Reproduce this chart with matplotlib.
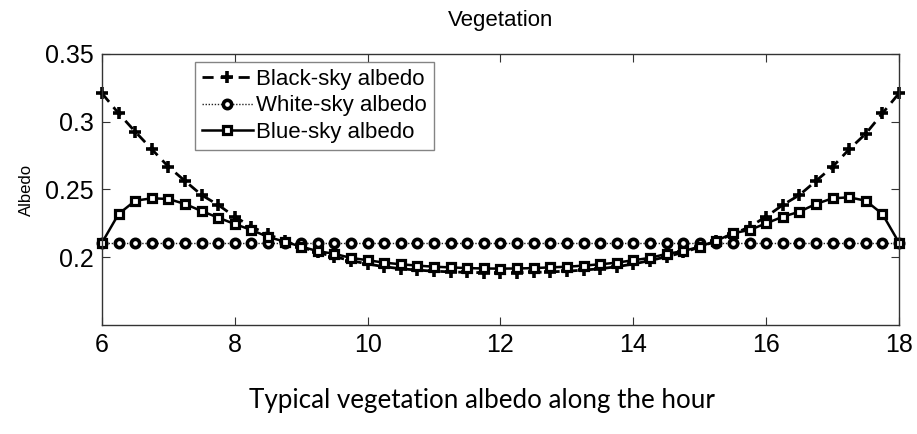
import numpy as np
import matplotlib
matplotlib.use("Agg")
import matplotlib.pyplot as plt

hours = [6.0, 6.25, 6.5, 6.75, 7.0, 7.25, 7.5, 7.75, 8.0, 8.25, 8.5, 8.75,
         9.0, 9.25, 9.5, 9.75, 10.0, 10.25, 10.5, 10.75, 11.0, 11.25, 11.5, 11.75,
         12.0, 12.25, 12.5, 12.75, 13.0, 13.25, 13.5, 13.75, 14.0, 14.25, 14.5, 14.75,
         15.0, 15.25, 15.5, 15.75, 16.0, 16.25, 16.5, 16.75, 17.0, 17.25, 17.5, 17.75, 18.0]

black_sky = [0.3210, 0.3062, 0.2927, 0.2797, 0.2668, 0.2563, 0.2459, 0.2386, 0.2299, 0.2225,
             0.2170, 0.2120, 0.2075, 0.2035, 0.2004, 0.1975, 0.1950, 0.1930, 0.1915, 0.1905,
             0.1897, 0.1892, 0.1888, 0.1886, 0.1885, 0.1886, 0.1888, 0.1892, 0.1897, 0.1905,
             0.1915, 0.1930, 0.1950, 0.1975, 0.2004, 0.2035, 0.2075, 0.2120, 0.2170, 0.2225,
             0.2299, 0.2386, 0.2459, 0.2563, 0.2668, 0.2797, 0.2912, 0.3062, 0.3210]

white_sky = [0.2107] * 49

blue_sky = [0.2107, 0.2319, 0.2417, 0.2435, 0.2430, 0.2393, 0.2341, 0.2292, 0.2245, 0.2201,
            0.2150, 0.2115, 0.2078, 0.2045, 0.2025, 0.1995, 0.1978, 0.1960, 0.1948, 0.1938,
            0.1930, 0.1925, 0.1920, 0.1917, 0.1916, 0.1917, 0.1920, 0.1925, 0.1930, 0.1938,
            0.1948, 0.1960, 0.1978, 0.1995, 0.2025, 0.2045, 0.2078, 0.2122, 0.2177, 0.2201,
            0.2250, 0.2299, 0.2336, 0.2393, 0.2435, 0.2442, 0.2417, 0.2319, 0.2107]

x_ticks = [6, 8, 10, 12, 14, 16, 18]
y_ticks = [0.2, 0.25, 0.3, 0.35]
y_tick_labels = ["0.2", "0.25", "0.3", "0.35"]

plt.rcParams["font.family"] = ["Liberation Sans", "DejaVu Sans"]

fig = plt.figure(figsize=(9.17, 4.34), dpi=100)
ax = fig.add_axes([0.1112, 0.2512, 0.8692, 0.6244])

ax.plot(hours, black_sky, color="black", lw=2.0, ls=(0, (4, 2.5)),
        marker="+", ms=8, mew=2.6, label="Black-sky albedo", clip_on=False)
ax.plot(hours, white_sky, color="#222222", lw=1.0, ls=(0, (1, 1.2)),
        marker="o", ms=6, mew=2.6, mfc="white", mec="black",
        label="White-sky albedo", clip_on=False)
ax.plot(hours, blue_sky, color="black", lw=1.8, ls="-",
        marker="s", ms=5.8, mew=2.3, mfc="white", label="Blue-sky albedo",
        clip_on=False)

ax.set_xlim(6, 18)
ax.set_ylim(0.15, 0.35)
ax.set_xticks(x_ticks)
ax.set_xticklabels([str(t) for t in x_ticks])
ax.set_yticks(y_ticks)
ax.set_yticklabels(y_tick_labels)
ax.tick_params(direction="in", length=6, width=0.8, top=True, right=True,
               labelsize=18, pad=6, color="#333333")
for s in ax.spines.values():
    s.set_color("#333333")
    s.set_linewidth(1.0)

ax.set_title("Vegetation", fontsize=16, pad=20)
ax.set_ylabel("Albedo", fontsize=12, labelpad=8)

leg = ax.legend(loc="upper left", bbox_to_anchor=(0.117, 0.97), fontsize=16,
                frameon=True, fancybox=False, handlelength=2.3, handletextpad=0.15,
                borderpad=0.3, labelspacing=0.25, borderaxespad=0.0)
leg.get_frame().set_edgecolor("#666666")
leg.get_frame().set_linewidth(1.0)

fig.text(0.526, 0.078, "Typical vegetation albedo along the hour",
         ha="center", va="center", fontsize=18.7, family=["Lato", "DejaVu Sans"])

fig.savefig("out.png", dpi=100)
